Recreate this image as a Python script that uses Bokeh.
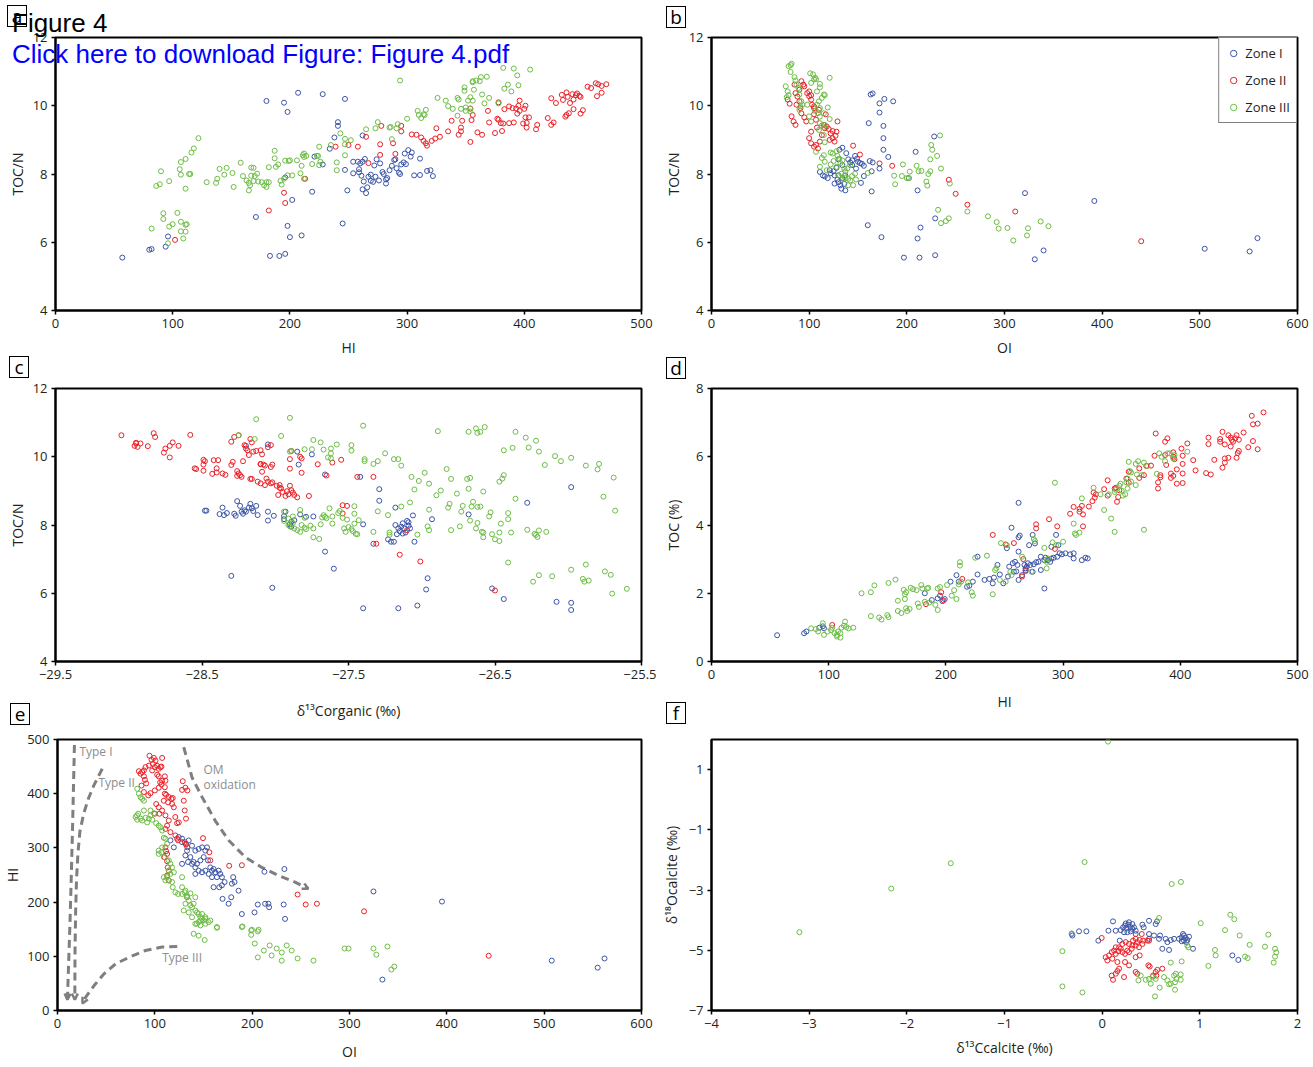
import math
from bokeh.plotting import figure
from bokeh.models import (Label, Legend, LegendItem, FixedTicker, Arrow, OpenHead,
                          Range1d, CustomJSTickFormatter, Div)
from bokeh.layouts import column, row
from bokeh.embed import file_html
from bokeh.resources import INLINE

# ---------------- data ----------------
# Panel a : HI vs TOC/N
A_Z1_HI = [57,80,82,94,96,171,180,195,198,207,228,247,183,191,196,198,200,210,202,196,219,221,228,245,249,241,241,238,234,247,254,258,260,262,264,254,259,261,259,263,262,266,269,271,262,267,272,274,277,279,280,282,283,285,287,289,290,293,294,295,297,298,301,303,304,299,311,311,306,317,320,322,291,282,276,265,273,269]
A_Z1_TN = [5.55,5.78,5.8,5.87,6.17,6.74,10.14,10.09,9.82,10.38,10.34,10.2,5.6,5.6,5.66,6.48,6.15,6.2,7.24,7.9,7.48,8.51,8.28,6.55,7.52,9.52,9.41,9.07,8.74,8.12,8.36,8.36,8.31,8.36,8.44,8.02,8.05,7.95,8.14,7.78,7.55,7.61,7.8,7.77,9.13,7.92,8.25,8.43,8.31,8.06,8.0,7.84,7.88,8.11,8.24,8.41,8.43,8.04,8.0,8.28,8.34,8.6,8.7,8.51,8.63,8.29,8.45,7.97,7.96,8.09,8.11,7.94,8.17,7.72,7.81,7.44,7.92,7.98]
A_Z2_HI = [102,182,196,195,213,239,250,258,265,267,278,277,277,288,290,295,295,304,308,312,314,316,317,321,324,328,325,335,338,344,346,346,347,354,356,354,360,364,369,370,375,378,377,380,381,387,390,391,393,394,396,395,400,401,401,402,402,404,411,410,423,427,420,423,425,432,433,436,437,439,441,442,444,445,447,448,442,436,438,435,448,450,454,457,461,463,466,470,462,466,383,396,382,387,399,378,355]
A_Z2_TN = [6.07,6.93,7.15,7.45,7.86,8.8,8.85,8.8,9.09,8.32,9.41,8.87,8.56,8.9,8.59,9.41,9.25,9.16,9.15,9.07,8.97,8.9,8.83,8.97,9.04,9.09,9.34,9.25,9.56,9.15,9.36,9.25,9.56,9.92,9.73,8.94,9.22,9.15,9.85,9.51,9.2,10.1,9.62,9.49,9.26,9.98,9.93,9.51,9.92,9.77,10.15,10.0,9.91,10.0,9.66,9.5,9.36,9.66,9.44,9.31,10.22,10.08,9.64,9.44,9.51,10.32,10.17,10.39,10.26,10.08,10.34,10.18,10.31,10.36,10.29,10.26,9.9,9.73,9.78,9.68,9.77,9.87,10.56,10.52,10.66,10.63,10.58,10.63,10.28,10.38,9.9,9.85,9.48,9.49,9.48,9.59,9.58]
A_Z3_HI = [122,118,116,111,107,106,107,114,115,111,90,97,89,86,92,92,104,97,100,107,111,112,107,111,82,109,96,
           129,137,138,140,146,144,151,152,158,160,163,165,167,169,167,170,172,165,166,169,173,176,178,180,180,182,182,187,187,188,190,192,193,195,196,198,199,202,200,206,209,210,212,211,212,214,212,219,223,224,225,225,226,235,240,240,243,247,247,252,247,265,273,275,285,286,291,287,292,294,300,309,310,312,314,316,315,326,333,335,339,343,344,343,346,349,349,354,356,356,359,357,356,350,352,354,363,362,364,368,370,366,378,382,383,386,389,391,394,395,405,350,354]
A_Z3_TN = [9.05,8.75,8.63,8.44,8.35,8.14,7.98,8.0,8.0,7.57,8.08,7.79,7.7,7.65,6.85,6.68,6.86,6.46,6.53,6.6,6.51,6.53,6.32,6.31,6.4,6.11,5.97,
           7.76,7.74,7.86,8.15,8.18,7.98,8.03,7.62,8.33,7.94,7.81,7.74,8.19,8.18,7.95,7.94,8.01,7.52,7.67,7.79,7.78,7.76,7.67,7.62,7.76,7.76,8.2,8.68,8.46,8.21,8.28,7.8,7.69,7.86,8.39,7.96,8.38,7.96,8.4,8.4,8.02,8.24,7.86,8.55,8.6,8.53,8.5,8.29,8.53,8.53,8.8,8.26,8.36,8.85,8.34,8.11,9.19,9.03,8.55,8.99,8.87,9.31,9.34,9.52,9.36,9.38,9.34,9.02,9.46,10.74,9.62,9.85,9.73,9.64,9.75,9.88,9.73,10.23,10.15,9.99,9.91,10.23,10.18,9.71,9.91,10.54,10.44,10.25,10.69,10.72,10.74,10.47,10.15,9.95,10.15,9.91,10.84,10.72,10.33,10.85,10.23,10.07,10.07,11.11,10.5,10.62,10.42,11.09,10.89,10.6,11.06,9.85,9.83]

# Panel b : OI vs TOC/N
B_Z1_OI = [163,165,177,186,172,172,161,176,176,176,181,162,165,172,164,164,160,174,197,213,229,211,214,229,211,209,228,202,321,340,331,392,505,551,559,111,114,116,119,122,125,126,129,130,132,133,136,137,126,130,134,137,131,134,138,140,142,144,147,149,150,152,154,156,153,156,148,144,130,134,121,128]
B_Z1_TN = [10.33,10.36,10.2,10.13,10.07,9.8,9.49,9.41,9.05,8.71,8.5,8.38,8.34,8.16,8.08,7.49,6.5,6.15,5.55,5.55,5.62,6.11,6.43,6.7,7.52,8.65,9.1,7.88,7.44,5.76,5.5,7.21,5.81,5.73,6.12,8.06,7.96,7.93,7.88,8.02,8.08,7.72,7.84,7.76,7.67,7.57,7.71,7.52,7.96,7.96,7.88,7.96,8.71,8.77,8.61,8.43,8.34,8.26,8.53,8.45,8.36,8.32,8.3,8.24,7.74,7.94,8.16,8.4,8.43,8.26,8.11,8.18]
B_Z2_OI = [78,80,82,84,86,85,86,88,90,92,94,95,91,92,95,97,98,100,102,103,105,100,102,105,107,108,102,100,102,105,107,109,111,113,115,116,118,120,122,124,127,128,129,117,121,124,126,145,152,172,185,243,250,262,311,440,105,110,87,90]
B_Z2_TN = [10.18,10.06,9.69,9.54,9.44,10.62,10.37,10.27,10.47,10.72,10.62,10.57,9.93,9.78,9.66,9.54,10.37,10.28,10.18,10.03,9.93,10.42,10.31,9.75,9.59,9.36,9.24,9.05,8.9,8.8,8.85,8.75,8.95,9.14,9.44,9.34,9.39,9.32,9.19,9.05,9.12,9.24,9.54,9.75,9.0,9.26,8.95,8.83,8.57,8.31,8.24,7.83,7.42,7.1,6.9,6.03,9.98,9.88,10.03,10.13]
B_Z3_OI = [79,81,82,81,85,76,78,79,77,86,87,89,90,92,91,90,93,101,104,106,107,105,111,111,115,116,113,110,119,108,106,109,111,111,113,115,116,121,121,115,116,107,113,115,111,116,122,124,128,129,131,134,132,136,137,133,136,137,140,142,144,147,148,145,140,135,130,122,125,128,118,139,142,160,187,188,196,195,203,202,210,212,215,222,224,220,221,225,226,231,224,235,234,244,232,235,240,243,262,283,292,294,303,309,324,323,337,345,200,102,108,98,100,102,110,111,115]
B_Z3_TN = [11.16,11.19,11.23,10.99,10.84,10.57,10.42,10.31,10.25,10.74,10.62,10.52,10.33,10.13,9.98,9.88,10.03,10.95,10.92,10.82,10.78,10.77,10.64,10.54,10.33,10.31,10.23,10.13,9.95,10.03,9.85,9.78,9.68,9.49,9.42,9.36,9.44,9.61,10.82,9.14,8.93,8.65,8.47,8.55,8.21,8.36,8.63,8.6,8.67,8.53,8.45,8.4,8.32,8.16,8.08,8.01,7.94,7.88,7.86,7.81,7.94,8.01,7.84,7.67,7.67,7.86,7.96,8.28,8.38,8.21,8.11,8.16,8.26,8.03,7.95,7.7,8.28,7.94,8.07,7.88,8.24,8.08,8.09,8.0,8.08,7.78,7.66,8.85,8.71,8.53,8.43,8.16,9.13,7.72,6.95,6.56,6.62,6.7,6.9,6.76,6.59,6.4,6.42,6.05,6.41,6.2,6.61,6.47,7.88,10.67,10.42,10.03,9.69,9.54,9.29,9.93,9.78]

# Panel c : d13C organic vs TOC/N
C_Z1_D13 = [-28.48,-28.47,-28.38,-28.36,-28.35,-28.33,-28.28,-28.27,-28.26,-28.24,-28.23,-28.22,-28.21,-28.2,-28.18,-28.17,-28.16,-28.15,-28.13,-28.12,-28.05,-28.05,-28.01,-27.94,-27.94,-27.93,-27.9,-27.89,-27.89,-27.87,-27.83,-27.79,-27.74,-27.84,-27.85,-27.75,-27.66,-27.42,-27.29,-27.29,-27.18,-27.06,-26.93,-27.4,-27.33,-27.23,-27.21,-27.19,-27.05,-27.66,-27.6,-28.3,-28.02,-27.4,-27.16,-27.03,-26.97,-26.96,-26.68,-26.52,-26.44,-26.28,-26.08,-25.98,-25.98,-25.98,-28.05,-28.2,-27.18,-27.16,-27.15,-27.14,-27.13,-27.12,-27.11,-27.1,-27.09,-27.13,-27.17,-27.08,-27.09]
C_Z1_TN = [8.42,8.42,8.32,8.51,8.29,8.35,8.33,8.27,8.7,8.56,8.39,8.33,8.43,8.39,8.51,8.62,8.49,8.41,8.56,8.29,8.39,8.13,8.27,8.26,8.17,8.39,8.02,8.1,7.95,8.14,8.31,8.24,8.25,9.77,10.15,10.07,9.48,9.41,9.05,8.71,8.51,8.28,8.17,8.02,7.45,7.58,7.51,7.51,7.51,7.22,6.72,6.51,6.16,5.56,5.56,5.64,6.11,6.44,8.31,6.14,5.83,8.65,5.75,5.72,5.51,9.11,10.36,10.32,8.0,7.9,7.82,7.95,8.05,7.9,7.78,8.12,7.98,7.75,7.73,7.9,8.08]
C_Z2_D13 = [-29.05,-28.96,-28.95,-28.94,-28.92,-28.95,-28.87,-28.83,-28.82,-28.76,-28.75,-28.72,-28.7,-28.66,-28.72,-28.58,-28.55,-28.54,-28.49,-28.49,-28.48,-28.49,-28.42,-28.39,-28.43,-28.4,-28.4,-28.36,-28.34,-28.3,-28.29,-28.3,-28.28,-28.25,-28.22,-28.26,-28.25,-28.26,-28.24,-28.23,-28.21,-28.2,-28.19,-28.18,-28.17,-28.16,-28.15,-28.13,-28.1,-28.09,-28.1,-28.08,-28.07,-28.05,-28.03,-28.09,-28.1,-28.17,-28.16,-28.12,-28.1,-28.07,-28.06,-28.05,-28.03,-28.02,-27.99,-27.98,-27.97,-27.96,-27.95,-27.93,-27.92,-27.91,-27.9,-27.89,-27.88,-27.87,-27.85,-28.03,-28.02,-27.9,-27.9,-27.89,-27.83,-27.82,-27.82,-27.77,-27.71,-27.65,-27.61,-27.55,-27.54,-27.51,-27.54,-27.44,-27.33,-27.31,-27.15,-27.01,-26.5,-27.1,-27.97]
C_Z2_TN = [10.63,10.32,10.39,10.29,10.39,10.41,10.31,10.69,10.58,10.12,10.24,10.32,10.42,10.32,9.98,10.64,9.66,9.64,9.91,9.77,9.87,9.59,9.9,9.9,9.5,9.66,9.54,9.51,9.47,9.76,9.85,10.44,10.58,10.63,9.87,9.58,9.51,9.44,9.46,9.41,10.34,10.24,10.19,10.05,10.52,10.42,10.15,10.17,10.19,10.07,9.78,9.77,9.74,10.28,10.34,9.56,9.79,9.35,9.35,9.27,9.22,9.17,9.36,9.27,9.22,9.25,9.15,8.88,9.09,9.07,8.97,8.85,8.99,8.9,9.15,9.02,8.95,8.88,8.81,9.7,9.77,9.93,9.65,10.17,10.0,9.95,9.53,8.85,9.78,9.45,9.83,9.91,8.58,8.56,8.34,9.41,9.41,7.45,7.13,6.93,6.08,7.85,9.17]
C_Z3_D13 = [-28.13,-27.9,-28.25,-28.14,-27.96,-27.89,-27.9,-27.8,-27.74,-27.69,-27.75,-27.67,-27.62,-27.62,-27.58,-27.48,-27.48,-27.62,-27.64,-27.4,-27.39,-27.39,-27.33,-27.3,-27.25,-27.19,-27.16,-27.14,-26.89,-26.68,-26.63,-26.62,-26.6,-26.57,-26.36,-26.44,-26.38,-26.29,-26.27,-26.22,-26.2,-26.09,-26.05,-25.98,-25.88,-25.79,-25.8,-26.16,-25.69,-25.76,-25.68,-27.07,-27.02,-26.98,-26.95,-27.05,-26.9,-26.87,-26.83,-26.8,-26.81,-26.82,-26.76,-26.72,-26.69,-26.67,-26.68,-26.66,-26.65,-26.62,-26.6,-26.58,-26.73,-26.67,-26.62,-26.53,-26.54,-26.47,-26.45,-26.44,-26.41,-26.41,-26.46,-26.36,-26.39,-26.47,-26.52,-26.58,-26.59,-26.58,-26.5,-26.47,-26.28,-26.23,-26.21,-26.2,-26.15,-26.22,-26.41,-26.2,-26.11,-26.24,-25.98,-25.88,-25.9,-25.86,-25.75,-25.71,-25.89,-25.7,-25.6,-26.95,-26.96,-27.03,-26.8,-26.74,-26.63,-27.94,-27.91,-27.9,-27.88,-27.87,-27.85,-27.83,-27.82,-27.8,-27.79,-27.76,-27.74,-27.74,-27.7,-27.69,-27.68,-27.66,-27.65,-27.63,-27.61,-27.61,-27.57,-27.56,-27.54,-27.53,-27.52,-27.51,-27.5,-27.48,-27.47,-27.46,-27.46,-27.46,-27.45,-27.44,-27.43,-27.33,-27.3,-27.23,-27.22,-27.22,-27.14,-27.08,-26.95,-27.8,-27.83,-27.88,-27.94,-27.91,-27.67]
C_Z3_TN = [11.1,11.14,10.63,10.52,10.61,10.17,10.15,10.22,10.49,10.42,10.22,10.21,10.24,10.1,10.36,10.34,10.18,9.95,9.98,10.91,9.93,9.87,9.79,9.87,10.1,9.93,9.93,9.74,10.75,10.73,10.83,10.7,10.73,10.87,10.73,10.19,10.26,10.56,10.27,10.47,10.15,10.02,9.87,9.97,9.74,9.79,9.63,9.76,9.39,8.83,8.42,9.41,9.29,9.53,9.21,9.04,8.87,9.01,9.64,9.35,8.62,8.51,8.92,8.56,9.35,9.38,9.06,8.54,8.68,8.53,8.54,8.98,8.39,8.13,8.06,8.37,8.25,9.27,9.36,9.46,8.35,8.17,8.04,8.77,7.78,7.78,7.73,7.78,7.8,7.64,7.58,7.53,7.86,7.74,7.65,7.84,7.8,7.71,6.9,6.53,6.5,6.34,6.69,6.84,6.42,6.37,6.64,6.54,6.34,5.99,6.13,7.85,7.96,7.72,7.85,7.96,7.9,8.12,8.0,7.96,8.06,7.9,7.85,7.8,8.0,7.92,7.88,7.98,7.9,7.64,7.59,8.02,8.22,8.24,8.2,8.49,8.25,8.04,8.35,8.41,8.21,7.9,7.8,8.16,7.94,7.88,7.82,8.33,8.55,8.04,7.74,7.73,8.14,7.8,8.4,8.29,7.71,7.78,8.54,8.66,8.45,8.21,8.44,8.25,8.39,8.19,8.29]

# Panel d : HI vs TOC (%)
D_Z1_HI = [56,79,81,92,95,96,182,188,193,195,197,199,204,209,211,218,220,223,227,227,233,237,240,241,244,246,249,253,254,257,259,261,262,265,258,260,267,268,269,270,272,275,277,279,281,284,285,287,289,290,292,295,297,299,302,306,309,309,316,319,321,262,256,262,263,274,271,276,294,296,284,281,268,274,252,262,290]
D_Z1_TOC = [0.77,0.83,0.88,0.99,1.03,0.97,2.0,1.8,1.85,1.93,1.77,1.83,2.34,2.53,2.34,2.19,2.22,2.34,2.55,3.07,2.39,2.42,2.29,2.46,2.83,2.55,2.29,2.49,2.78,2.88,2.92,2.83,2.39,2.53,2.63,2.64,2.83,2.73,2.78,2.88,2.83,2.85,2.91,2.92,3.07,2.97,3.04,2.97,2.92,3.02,3.04,3.07,3.17,3.14,3.17,3.14,3.02,3.17,2.97,3.04,3.02,4.65,3.92,3.64,3.69,3.71,3.41,3.46,3.71,3.41,2.14,2.68,2.68,2.63,3.32,3.22,3.36]
D_Z2_HI = [103,183,196,198,214,240,251,258,265,266,268,277,277,288,295,293,306,309,314,316,314,317,317,322,325,326,328,327,335,338,338,344,345,346,347,348,354,356,365,369,371,375,378,379,381,381,383,383,387,389,388,387,394,394,395,397,397,394,392,401,402,402,402,406,411,413,422,426,424,424,429,434,434,436,438,438,441,443,444,445,447,448,450,436,438,441,448,450,443,454,458,462,461,462,466,466,471,449,402,392,365,356]
D_Z2_TOC = [1.07,1.68,2.03,1.79,2.42,3.71,3.43,3.47,2.49,3.0,2.65,4.02,3.9,4.17,3.96,3.3,4.33,4.53,4.47,4.56,4.39,4.31,3.96,4.54,4.7,4.95,4.9,4.8,5.05,5.31,4.86,5.07,5.09,4.68,4.82,5.02,5.36,5.24,5.38,5.46,5.73,5.74,6.03,6.68,5.25,5.07,5.46,5.4,6.44,6.54,5.76,6.05,6.13,6.0,5.93,5.63,5.21,5.44,5.38,6.24,5.23,5.79,6.03,6.39,5.9,5.6,5.52,5.48,6.56,6.37,5.91,6.52,6.44,6.73,5.95,6.36,6.63,6.56,6.49,6.44,6.54,6.63,6.5,5.68,5.83,5.97,5.97,6.17,6.3,6.71,6.28,6.46,7.2,6.95,6.97,6.22,7.3,6.11,5.51,5.51,5.66,5.56]
D_Z3_HI = [128,136,139,151,157,159,164,165,165,166,166,167,169,170,172,175,176,177,179,180,182,184,185,186,191,193,193,195,201,205,207,209,211,212,212,213,219,222,223,225,235,240,242,243,246,247,251,252,255,256,265,273,275,276,284,286,286,287,291,293,294,300,309,310,311,314,316,326,332,335,339,341,344,344,348,349,350,351,353,355,355,357,358,356,358,362,362,363,367,369,369,372,380,382,384,387,389,391,394,395,406,364,354,345,85,89,91,95,96,99,102,103,105,107,107,108,110,110,111,113,114,115,117,121,136,143,145,150,151,159,162]
D_Z3_TOC = [2.0,2.03,2.23,2.3,2.4,1.78,2.1,1.97,1.83,2.03,1.56,1.48,1.54,2.16,2.12,2.09,1.7,1.6,2.24,2.14,1.75,2.14,2.16,1.73,1.66,2.14,1.51,2.18,2.24,1.93,2.09,1.83,2.26,2.91,2.81,2.34,2.32,2.03,1.93,3.04,3.1,1.97,2.68,2.73,2.39,3.47,2.34,3.41,2.63,2.53,3.07,2.63,3.59,3.53,3.33,2.92,2.73,3.02,3.49,5.24,3.41,3.51,4.04,3.75,3.71,3.78,4.78,5.09,4.9,4.44,4.9,4.19,3.8,4.97,5.15,5.21,5.01,4.86,4.9,5.36,5.07,5.58,5.27,5.85,5.54,5.17,5.79,5.48,5.46,5.83,3.86,5.73,5.5,6.1,6.0,5.87,6.1,6.1,5.95,6.05,6.15,5.87,5.25,5.03,0.97,0.95,0.88,1.12,0.78,0.88,0.92,0.99,0.83,0.73,0.78,0.88,0.83,0.7,0.99,1.05,1.17,1.01,0.97,0.99,1.33,1.29,1.23,1.36,1.3,1.48,1.42]

# Panel e : OI vs HI
E_Z1_OI = [128,132,134.8,138.2,141.6,145,148.5,151.9,153.6,131.4,136.5,139.9,143.3,146.8,150.2,154.6,157,158.7,160.4,162.1,165.5,167.2,168.9,163.8,158.7,155.3,151.9,148.5,145,141.6,138.2,134.1,128,133.1,141.6,168.9,171.7,180.5,181.9,179.2,186,160.4,166.2,178.5,175.8,169.6,189.4,202.4,205.8,213.3,216.7,217.4,233.8,232.4,212.6,233.1,124.6,128,116,119.5,324.6,395,333.8,507.8,555,562]
E_Z1_HI = [317,307.5,313.7,304,295,298,301,295,301,286,283,274,270.6,277,283,277,264,258,261,255,258,252,246,246,246,252,258,255,258,264,270.6,274,270.6,295,252,231,237,246,237,234,221,227.5,227.5,209,197,206,178,181,195.6,197,197,190.6,169,195.6,256,261,320,310.6,314,301,219.6,201,57,92,79,96]
E_Z2_OI = [94.5,96.6,99,100.7,98,93.9,90.4,88.8,87,83.6,85.3,88.8,89.8,91.1,86.3,88.8,93.2,95.5,100,104,106.8,105.5,107.5,110.9,110.3,101.4,104,100,104.7,107.5,110.9,114.3,112.6,116,110.9,109.2,111.6,110.3,114.3,117,118.4,113.6,121,122.9,124.6,128,129.7,130.7,132,133.4,131.4,128.7,110.3,104,105.8,106.8,102.4,107.5,100,97.3,102.4,104,117.7,119.5,121.1,122.9,123.9,130.7,132,133.4,149.5,156,110.9,111.6,112.6,109.9,112.6,113.3,114.3,112.6,114.3,176.4,189.4,255,266.5,246.7,315,443,157]
E_Z2_HI = [470,462.5,466,461,455,452,449,443,440,441.5,437,432,425.6,419,415,403,397,401,406,411,417,421,424,424,412,381,375,363,363,369,360,350.5,341,329,335,387,398,400,394,390.5,392,384,357,345.6,347,407,387,369,354,406,411,423,432,446,449,450,451.5,466,449,443,435,432,381,375,323,317,314,310.6,306,301,318,292,301,294,289,283,275.5,264,258,249,240,267,268,195.6,197,214,183,101,277]
E_Z3_OI = [81.9,83.6,85.3,87,88.8,82.9,81.6,80.2,81.9,85.3,87,90.4,93.9,95.5,97.3,92.1,88.8,95.5,99,101.4,104,105.8,107.5,109.2,110.9,112.6,107.5,106.8,104,109.2,114.3,116,117.7,114.3,116,112.6,114.3,117.7,118.4,121.1,123.9,128,130.7,133.1,128,119.5,109.2,110.9,104,
           128,131.4,133.1,134.8,131.4,136.5,138.2,139.9,141.6,143.3,145,146.8,148.5,150.2,151.9,145,138.2,134.8,141.6,146.8,151.9,157,163.8,189.4,199.7,206.5,129.7,133.1,136.5,141.6,
           139.9,145,151.2,163.8,190.1,199,199,205.8,205.8,143.3,146.8,155.3,148.5,151.9,
           202.7,212,218,225.2,230.4,235.5,240.6,246.7,230.4,220,263,294.9,299,324.6,327.6,339,346,343]
E_Z3_HI = [409,400,393.6,390.5,387,363,360,357,352,354,350.5,355.5,354,360,352,347,369,369,364,345.6,341,338,332,318.6,317,307.5,301,292,289,283,277,270.6,264,258,252,246,240,237,227.5,218,215,215,218,209,246,255,246,240,295,
           227.5,221,209,203,197,194,190.6,197,184.5,181,178,172,169,166,172,163,172,181,160,157,160,166,154,154,149,149,184.5,212,216,209,
           141.5,138,130,152.6,155,147.6,139.6,146,98,160,166,163,178,169,
           123.6,110.7,120,114.4,107,120,110.7,96,92,101.5,92,114.4,114.4,114.4,103,118,81,75.6]
# kerogen type reference curves (OI, HI)
TYPE1_OI = [17.4,16.5,15.5,14.2,12.8,11.3,10.2]
TYPE1_HI = [490,420,340,250,160,80,20]
TYPE2_OI = [46,42,37,32,27,23,21,19.5,18.6,18,17.8]
TYPE2_HI = [446,432,414,392,364,330,290,240,180,110,20]
TYPE3_OI = [123,107.5,90.4,73.4,59.7,47.8,37.6,29,25.6]
TYPE3_HI = [118,117,110.7,98,86,67.7,46,24.6,13]
OMOX_OI = [129.7,134,138.2,148.5,162.1,175.8,192.8,209.9,227,244,257.7]
OMOX_HI = [486,458,430,394,350,314,283,264,249,237,224.5]

# Panel f : d13C calcite vs d18O calcite
F_Z1_D13 = [0.19,0.214,0.234,0.248,0.268,0.289,0.309,0.326,0.343,0.258,0.224,0.292,0.275,0.241,0.309,-0.312,-0.237,-0.162,-0.305,-0.039,0.064,0.111,0.139,0.18,0.343,0.412,0.425,0.48,0.548,0.562,0.48,0.531,0.593,0.582,0.65,0.668,0.702,0.736,0.616,0.685,0.48,0.93,1.333,1.394,0.787,0.814,0.838,0.855,0.872,0.838,0.814,0.862,0.889,0.828]
F_Z1_D18 = [-4.33,-4.24,-4.18,-4.26,-4.15,-4.23,-4.29,-4.24,-4.35,-4.4,-4.4,-4.37,-4.07,-4.11,-4.13,-4.46,-4.37,-4.37,-4.51,-4.68,-4.35,-4.04,-4.35,-4.68,-4.46,-4.15,-4.24,-4.02,-4.13,-4.04,-4.46,-4.51,-4.51,-4.62,-4.62,-4.73,-4.66,-4.62,-4.95,-4.99,-4.62,-4.95,-5.17,-5.32,-4.62,-4.57,-4.51,-4.59,-4.66,-4.68,-4.7,-4.73,-4.55,-4.46]
F_Z2_D13 = [-0.005,0.036,0.053,0.07,0.098,0.122,0.139,0.166,0.19,0.207,0.234,0.258,0.275,0.302,0.316,0.343,0.36,0.384,0.405,0.419,0.343,0.309,0.275,0.241,0.207,0.173,0.139,0.104,0.156,0.234,0.275,0.343,0.384,0.173,0.139,0.156,0.098,0.111,0.224,0.343,0.36,0.473,0.487,0.548,0.565,0.521,0.555,0.616,0.412,0.377,0.463,0.48]
F_Z2_D18 = [-4.59,-5.23,-5.34,-5.17,-5.06,-5.01,-5.12,-5.03,-4.95,-5.06,-5.12,-5.01,-5.06,-4.95,-4.68,-4.62,-4.73,-4.66,-4.46,-4.68,-4.84,-4.84,-4.79,-4.73,-4.79,-4.9,-4.9,-5.28,-5.39,-5.39,-5.5,-5.23,-5.17,-5.61,-5.78,-5.69,-5.84,-5.98,-5.89,-5.72,-5.78,-5.5,-5.54,-5.72,-5.65,-5.84,-5.84,-5.61,-4.79,-4.9,-4.68,-4.68]
F_Z3_D13 = [0.712,0.807,0.582,-0.312,-0.407,-0.407,-0.202,0.541,0.702,0.814,1.009,1.155,1.162,1.087,1.258,1.312,1.353,1.408,1.51,1.463,1.49,1.667,1.701,1.77,1.783,1.77,1.756,0.395,0.371,0.446,0.48,0.497,0.514,0.548,0.589,0.633,0.668,0.685,0.702,0.736,0.753,0.76,0.746,0.746,0.804,0.804,0.872,0.882,-3.1,-2.16,-1.55,-0.18,0.06]
F_Z3_D18 = [-2.8,-2.73,-3.93,-4.44,-5.03,-6.2,-6.4,-6.53,-5.41,-5.37,-4.1,-4.99,-5.17,-5.52,-4.33,-3.82,-3.97,-4.51,-4.82,-5.21,-5.26,-4.88,-4.48,-4.95,-5.07,-5.21,-5.41,-5.84,-6.0,-5.98,-5.95,-6.11,-5.89,-5.95,-6.24,-5.89,-6.0,-6.13,-6.11,-5.84,-5.78,-5.95,-6.06,-6.31,-5.8,-5.98,-4.84,-4.9,-4.4,-2.95,-2.11,-2.07,1.93]

ZONE_NAMES = ["Zone I", "Zone II", "Zone III"]
ZONE_COLORS = ["#3b55a6", "#ec2027", "#6dbd45"]
PANEL_LETTERS = ["a", "b", "c", "d", "e", "f"]

# ---------------- styling helpers ----------------
FONT = "Open Sans"
TICK_SIZE = "13px"
INK = "#231f20"


def minus_fmt(decimals):
    return CustomJSTickFormatter(code=(
        "const s = Math.abs(tick).toFixed(%d);" % decimals +
        "return (tick < 0 ? '\\u2212' : '') + s;"))


def base_fig(xr, yr, xt, yt, top, fh, bottom, xlabel, ylabel, xs, ys, xdec=None, ydec=None):
    p = figure(width=656, height=top + fh + bottom,
               x_range=Range1d(*xr), y_range=Range1d(*yr),
               output_backend="svg", toolbar_location=None, tools="",
               min_border_left=55, min_border_right=15,
               min_border_top=top, min_border_bottom=bottom)
    p.grid.visible = False
    p.outline_line_color = "black"
    p.outline_line_width = 2
    p.background_fill_color = "white"
    p.border_fill_color = "white"
    for ax, ticks, dec, text, st in ((p.xaxis[0], xt, xdec, xlabel, xs),
                                     (p.yaxis[0], yt, ydec, ylabel, ys)):
        ax.ticker = FixedTicker(ticks=ticks, minor_ticks=[])
        ax.axis_line_width = 2
        ax.major_tick_line_width = 1.5
        ax.major_tick_out = 4
        ax.major_tick_in = 0
        ax.minor_tick_line_color = None
        ax.major_label_text_font = FONT
        ax.major_label_text_font_size = TICK_SIZE
        ax.major_label_text_color = INK
        ax.axis_label = text
        ax.axis_label_text_font = FONT
        ax.axis_label_text_font_size = "14px"
        ax.axis_label_text_font_style = "normal"
        ax.axis_label_text_color = INK
        ax.axis_label_standoff = st
        if dec is not None:
            ax.formatter = minus_fmt(dec)
    p.xaxis.major_label_standoff = 4
    p.yaxis.major_label_standoff = 4
    return p


def zones(p, xs, ys):
    rs = []
    for x, y, c in zip(xs, ys, ZONE_COLORS):
        rs.append(p.scatter(x, y, marker="circle", size=5, fill_color=None,
                            line_color=c, line_width=1))
    return rs


# row borders (top, frame height, bottom) chosen so frames sit where the reference has them
R1 = (37, 273, 52)
R2 = (26, 273, 66)
R3 = (12, 271, 57)

# ---------------- panel a ----------------
pa = base_fig((0, 500), (4, 12), [0, 100, 200, 300, 400, 500], [4, 6, 8, 10, 12], *R1,
              "HI", "TOC/N", 7, 3)
zones(pa, [A_Z1_HI, A_Z2_HI, A_Z3_HI], [A_Z1_TN, A_Z2_TN, A_Z3_TN])

# ---------------- panel b ----------------
pb = base_fig((0, 600), (4, 12), [0, 100, 200, 300, 400, 500, 600], [4, 6, 8, 10, 12], *R1,
              "OI", "TOC/N", 7, 3)
rb = zones(pb, [B_Z1_OI, B_Z2_OI, B_Z3_OI], [B_Z1_TN, B_Z2_TN, B_Z3_TN])
legend = Legend(items=[LegendItem(label=n, renderers=[r]) for n, r in zip(ZONE_NAMES, rb)],
                location="top_right", margin=0, padding=6, spacing=9,
                glyph_width=16, glyph_height=18, label_height=18, label_standoff=4,
                label_text_font=FONT, label_text_font_size="13px", label_text_color=INK,
                border_line_color="black", border_line_width=1.5,
                background_fill_color="white", background_fill_alpha=1)
pb.add_layout(legend)

# ---------------- panel c ----------------
pc = base_fig((-29.5, -25.5), (4, 12), [-29.5, -28.5, -27.5, -26.5, -25.5], [4, 6, 8, 10, 12], *R2,
              "\u03b4\u00b9\u00b3Corganic (\u2030)", "TOC/N", 19, 3, xdec=1)
zones(pc, [C_Z1_D13, C_Z2_D13, C_Z3_D13], [C_Z1_TN, C_Z2_TN, C_Z3_TN])

# ---------------- panel d ----------------
pd_ = base_fig((0, 500), (0, 8), [0, 100, 200, 300, 400, 500], [0, 2, 4, 6, 8], *R2,
               "HI", "TOC (%)", 10, 10)
zones(pd_, [D_Z1_HI, D_Z2_HI, D_Z3_HI], [D_Z1_TOC, D_Z2_TOC, D_Z3_TOC])

# ---------------- panel e ----------------
pe = base_fig((0, 600), (0, 500), [0, 100, 200, 300, 400, 500, 600], [0, 100, 200, 300, 400, 500], *R3,
              "OI", "HI", 11, 2)
CURVE = "#7f7f7f"
for cx, cy in ((TYPE1_OI, TYPE1_HI), (TYPE2_OI, TYPE2_HI), (TYPE3_OI, TYPE3_HI), (OMOX_OI, OMOX_HI)):
    pe.line(cx, cy, line_color=CURVE, line_width=3, line_dash="8 5")
    pe.add_layout(Arrow(end=OpenHead(size=6, line_color=CURVE, line_width=2.5),
                        x_start=cx[-2], y_start=cy[-2], x_end=cx[-1], y_end=cy[-1],
                        line_color=None))
zones(pe, [E_Z1_OI, E_Z2_OI, E_Z3_OI], [E_Z1_HI, E_Z2_HI, E_Z3_HI])
GRAY_TXT = "#8d8d8d"
for (tx, ty, tt) in ((22.5, 478, "Type I"), (42, 421, "Type II"), (107.5, 98, "Type III"),
                     (150, 445, "OM"), (150, 417, "oxidation")):
    pe.add_layout(Label(x=tx, y=ty, text=tt, text_font=FONT, text_font_size="12px",
                        text_color=GRAY_TXT, text_baseline="middle"))

# ---------------- panel f ----------------
pf = base_fig((-4, 2), (-7, 2), [-4, -3, -2, -1, 0, 1, 2], [1, -1, -3, -5, -7], *R3,
              "\u03b4\u00b9\u00b3Ccalcite (\u2030)", "\u03b4\u00b9\u2078Ocalcite (\u2030)", 7, 5,
              xdec=0, ydec=0)
zones(pf, [F_Z1_D13, F_Z2_D13, F_Z3_D13], [F_Z1_D18, F_Z2_D18, F_Z3_D18])

# ---------------- page overlay: header and panel letters ----------------
BOX_POS = [(2, 0), (661, 1), (4, 351), (661, 352), (5, 698), (661, 697)]
boxes = "".join(
    '<div style="position:absolute;left:%dpx;top:%dpx;width:20px;height:22px;'
    'border:1px solid #000;font-family:\'Open Sans\';font-size:19px;line-height:21px;'
    'text-align:center;color:#000;background:transparent;">%s</div>' % (x, y, t)
    for (x, y), t in zip(BOX_POS, PANEL_LETTERS))
header = ('<div style="position:absolute;left:7px;top:3px;font-family:\'Liberation Sans\';'
          'font-size:26px;line-height:31px;color:#000;white-space:nowrap;">Figure 4<br>'
          '<span style="color:#0000ff;">Click here to download Figure: Figure 4.pdf</span></div>')
overlay = Div(text='<div style="position:relative;width:1313px;height:1067px;">' + boxes + header + '</div>',
              width=1313, height=1067,
              styles={"position": "absolute", "left": "0px", "top": "0px",
                      "z-index": "10", "pointer-events": "none"})

layout = column(row(pa, pb), row(pc, pd_), row(pe, pf), overlay)
open("out.html", "w").write(file_html(layout, INLINE))
